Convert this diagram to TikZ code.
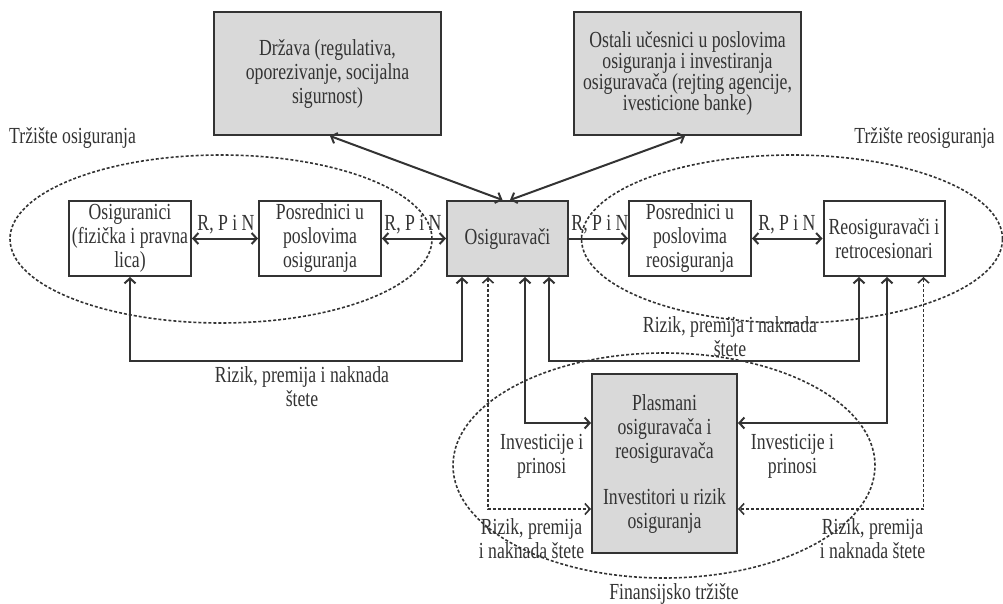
\documentclass[tikz,border=0pt]{standalone}
\usepackage{fontspec}
\setmainfont{Liberation Serif}[FakeStretch=0.77]
\usetikzlibrary{arrows.meta,calc}
\definecolor{lc}{HTML}{333333}
\definecolor{gf}{HTML}{D9D9D9}
\begin{document}
\begin{tikzpicture}[x=1pt,y=-1pt,
  every node/.style={text=lc},
  txt/.style={font=\fontsize{23}{24}\selectfont, align=center, inner sep=0pt},
  box/.style={txt, draw=lc, line width=2pt},
  wbox/.style={box, fill=white, minimum width=122pt, minimum height=75pt},
  gbox/.style={box, fill=gf},
  conn/.style={draw=lc, line width=2pt, {Straight Barb[length=5pt,width=11pt]}-{Straight Barb[length=5pt,width=11pt]}},
  oneway/.style={draw=lc, line width=2pt, -{Straight Barb[length=5pt,width=11pt]}},
  dconn/.style={conn, line width=1.6pt, dash pattern=on 3pt off 2pt},
  ell/.style={draw=lc, line width=1.6pt, dash pattern=on 3pt off 2pt},
  lab/.style={txt}]
\useasboundingbox (0,0) rectangle (1003,604);

% dashed market ellipses
\draw[ell] (221,239) ellipse [x radius=211pt, y radius=84pt];
\draw[ell] (792,239) ellipse [x radius=210.5pt, y radius=84pt];
\draw[ell] (664,465.5) ellipse [x radius=211pt, y radius=112.5pt];

% boxes
\node[wbox] (osiguranici) at (130,238.5) {Osiguranici\\(fizička i pravna\\lica)};
\node[wbox] (posr) at (320,238.5) {Posrednici u\\poslovima\\osiguranja};
\node[gbox, minimum width=121pt, minimum height=75pt] (osig) at (507.5,238.5) {Osiguravači};
\node[wbox] (posrreo) at (690,238.5) {Posrednici u\\poslovima\\reosiguranja};
\node[wbox, minimum width=121pt] (reosig) at (884,238.5) {Reosiguravači i\\retrocesionari};
\node[gbox, minimum width=227pt, minimum height=123pt] (drzava) at (327.5,73.5) {Država (regulativa,\\oporezivanje, socijalna\\sigurnost)};
\node[gbox, minimum width=227pt, minimum height=123pt, font=\fontsize{23}{21}\selectfont] (ostali) at (687.5,73.5) {Ostali učesnici u poslovima\\osiguranja i investiranja\\osiguravača (rejting agencije,\\ivesticione banke)};
\node[gbox, minimum width=145pt, minimum height=179pt] (plasmani) at (664.5,463.5) {Plasmani\\osiguravača i\\reosiguravača\\[22pt]Investitori u rizik\\osiguranja};

% anchor points
\coordinate (ot1) at ($(osig.north)+(-5,0)$);
\coordinate (ot2) at ($(osig.north)+(2.5,0)$);
\coordinate (dz) at ($(drzava.south)+(2.5,0)$);
\coordinate (os) at ($(ostali.south)+(-2.5,0)$);
\coordinate (o1) at ($(osig.south west)+(16,0)$);
\coordinate (o2) at ($(osig.south west)+(42,0)$);
\coordinate (o3) at ($(osig.south west)+(79,0)$);
\coordinate (o4) at ($(osig.south west)+(103,0)$);
\coordinate (r1) at ($(reosig.south west)+(36.5,0)$);
\coordinate (r2) at ($(reosig.south west)+(64.5,0)$);
\coordinate (r3) at ($(reosig.south west)+(101,0)$);
\coordinate (p1) at ($(plasmani.north west)+(0,50)$);
\coordinate (p2) at ($(plasmani.north west)+(0,136)$);
\coordinate (q1) at ($(plasmani.north east)+(0,50)$);
\coordinate (q2) at ($(plasmani.north east)+(0,136)$);

% connectors
\draw[conn] (ot1) -- (dz);
\draw[conn] (ot2) -- (os);
\draw[conn] (osiguranici) -- (posr);
\draw[conn] (posr) -- (osig);
\draw[oneway] (osig) -- (posrreo);
\draw[conn] (posrreo) -- (reosig);
\draw[conn] (osiguranici.south) -- ++(0,84) -| (o1);
\draw[conn] (o4) -- ++(0,84) -| (r1);
\draw[conn] (o3) |- (p1);
\draw[conn] (r2) |- (q1);
\draw[dconn] (o2) |- (p2);
\draw[dconn] (r3) |- (q2);

% labels
\node[lab, anchor=base] (rpn1) at (226,230) {R, P i N};
\node[lab, anchor=base] (rpn2) at (413,230) {R, P i N};
\node[lab, anchor=base] (rpn3) at (600,230) {R, P i N};
\node[lab, anchor=base] (rpn4) at (787,230) {R, P i N};
\node[lab] (rizik1) at (302,387) {Rizik, premija i naknada\\štete};
\node[lab] (rizik2) at (730,337) {Rizik, premija i naknada\\štete};
\node[lab] (inv1) at (541.7,456) {Investicije i\\prinosi};
\node[lab] (inv2) at (792.5,456) {Investicije i\\prinosi};
\node[lab] (rizik3) at (531.5,539) {Rizik, premija\\i naknada štete};
\node[lab] (rizik4) at (872.5,539) {Rizik, premija\\i naknada štete};
\node[lab, anchor=base west] (trz1) at (9,144) {Tržište osiguranja};
\node[lab, anchor=base east] (trz2) at (995,144) {Tržište reosiguranja};
\node[lab, anchor=base] (fin) at (674,599) {Finansijsko tržište};
\end{tikzpicture}
\end{document}
